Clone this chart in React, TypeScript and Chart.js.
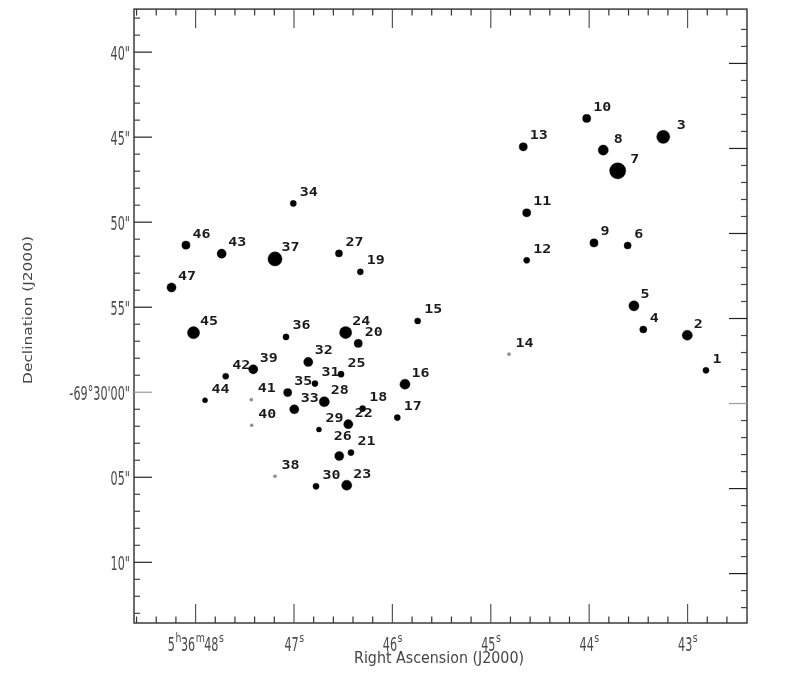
import { useEffect, useRef } from "react";
import { Chart, registerables } from "chart.js";

Chart.register(...registerables);

// Star identifiers
const starIds = [
  1, 2, 3, 4, 5, 6, 7, 8, 9, 10, 11, 12, 13, 14, 15, 16, 17, 18, 19, 20, 21, 22, 23, 24,
  25, 26, 27, 28, 29, 30, 31, 32, 33, 34, 35, 36, 37, 38, 39, 40, 41, 42, 43, 44, 45, 46, 47,
];

// Right ascension: seconds past 5h36m (J2000)
const raSeconds = [
  42.813, 43.003, 43.247, 43.45, 43.545, 43.609, 43.71, 43.857, 43.951, 44.025, 44.635, 44.635,
  44.67, 44.815, 45.743, 45.872, 45.95, 46.302, 46.326, 46.347, 46.421, 46.448, 46.464, 46.475,
  46.522, 46.54, 46.543, 46.692, 46.746, 46.776, 46.787, 46.855, 46.997, 47.007, 47.064, 47.081,
  47.193, 47.193, 47.414, 47.43, 47.434, 47.694, 47.735, 47.904, 48.021, 48.098, 48.245,
];

// Declination: arcsec south of -69°30'00" (J2000)
const decOffset = [
  -1.29, -3.35, -15.02, -3.69, -5.08, -8.63, -13.02, -14.24, -8.78, -16.1, -10.55, -7.76,
  -14.43, -2.24, -4.19, -0.47, 1.49, 0.96, -7.08, -2.87, 3.55, 1.88, 5.47, -3.51,
  -1.06, 3.75, -8.16, 0.56, 2.19, 5.53, -0.51, -1.78, 1.0, -11.1, 0.02, -3.25,
  -7.84, 4.94, -1.35, 1.94, 0.44, -0.94, -8.15, 0.47, -3.5, -8.65, -6.16,
];

// Relative brightness (symbol size class)
const brightness = [
  7, 11, 14, 8, 11, 8, 17, 11, 9, 9, 9, 7, 9, 4, 7, 11, 7, 7, 7, 9, 7, 10, 11, 13,
  7, 10, 8, 11, 6, 7, 7, 10, 10, 7, 9, 7, 15, 4, 10, 4, 4, 7, 10, 6, 13, 9, 10,
];

// Axis ticks and labels
const raMajorTicks = [48, 47, 46, 45, 44, 43];
const raTickLabels = ["5{h}36{m}48{s}", "47{s}", "46{s}", "45{s}", "44{s}", "43{s}"];
const decMajorTicks = [-20, -15, -10, -5, 0, 5, 10];
const decTickLabels = ['40"', '45"', '50"', '55"', "-69°30'00\"", '05"', '10"'];

const xTitle = "Right Ascension (J2000)";
const yTitle = "Declination (J2000)";

const RA_MIN = 42.396;
const RA_MAX = 48.626;
const DEC_MIN = -22.53;
const DEC_MAX = 13.57;
const DEC_TILT = 0.665; // declination lines tilt across the field (right edge offset)

// label nudges (pixels) for crowded labels
const labelNudge: Record<number, [number, number]> = {
  26: [-12, -9],
  3: [7, 0],
  7: [6, 0],
  8: [4, 0],
};

const TICK_TXT = "#4a4a4a";
const FRAME = "#3c3c3c";

function drawScaled(
  ctx: CanvasRenderingContext2D,
  text: string,
  x: number,
  y: number,
  font: string,
  sx: number,
  align: "left" | "center" | "right",
  color: string
) {
  ctx.save();
  ctx.font = font;
  const w = ctx.measureText(text).width * sx;
  let x0 = x;
  if (align === "center") x0 = x - w / 2;
  else if (align === "right") x0 = x - w;
  ctx.translate(x0, y);
  ctx.scale(sx, 1);
  ctx.fillStyle = color;
  ctx.textAlign = "left";
  ctx.textBaseline = "alphabetic";
  ctx.fillText(text, 0, 0);
  ctx.restore();
  return w;
}

const MAIN_FONT = "20px 'DejaVu Sans'";
const SUP_FONT = "12px 'DejaVu Sans'";
const MAIN_SX = 0.56;
const SUP_SX = 0.78;

function drawSupLabel(ctx: CanvasRenderingContext2D, label: string, cx: number, baseline: number) {
  const parts = label
    .split(/(\{[^}]*\})/)
    .filter((p) => p.length > 0)
    .map((p) => (p.startsWith("{") ? { t: p.slice(1, -1), sup: true } : { t: p, sup: false }));
  let total = 0;
  const widths = parts.map((p) => {
    ctx.font = p.sup ? SUP_FONT : MAIN_FONT;
    const w = ctx.measureText(p.t).width * (p.sup ? SUP_SX : MAIN_SX);
    total += w;
    return w;
  });
  let x = cx - total / 2;
  parts.forEach((p, i) => {
    if (p.sup) drawScaled(ctx, p.t, x + 0.5, baseline - 9, SUP_FONT, SUP_SX, "left", TICK_TXT);
    else drawScaled(ctx, p.t, x, baseline, MAIN_FONT, MAIN_SX, "left", TICK_TXT);
    x += widths[i];
  });
}

function line(ctx: CanvasRenderingContext2D, x1: number, y1: number, x2: number, y2: number) {
  ctx.beginPath();
  ctx.moveTo(x1, y1);
  ctx.lineTo(x2, y2);
  ctx.stroke();
}

const skyPlugin = {
  id: "skyPlot",
  beforeDraw(chart: any) {
    const ctx = chart.ctx as CanvasRenderingContext2D;
    ctx.save();
    ctx.fillStyle = "#ffffff";
    ctx.fillRect(0, 0, chart.width, chart.height);
    ctx.restore();
  },
  afterDatasetsDraw(chart: any) {
    const ctx = chart.ctx as CanvasRenderingContext2D;
    const { left, right, top, bottom } = chart.chartArea;
    const xs = chart.scales.x;
    const ys = chart.scales.y;

    ctx.save();
    // frame
    ctx.strokeStyle = FRAME;
    ctx.lineWidth = 1.5;
    ctx.strokeRect(left, top, right - left, bottom - top);

    // RA ticks (bottom and top, inward)
    ctx.lineWidth = 1.2;
    const startRa = Math.ceil(RA_MIN * 5) / 5;
    for (let v = startRa; v <= RA_MAX + 1e-9; v += 0.2) {
      const vv = Math.round(v * 5) / 5;
      const px = xs.getPixelForValue(vv);
      if (px < left + 2 || px > right - 2) continue;
      const major = Math.abs(vv - Math.round(vv)) < 1e-6;
      const len = major ? 19 : 6.5;
      ctx.strokeStyle = major ? "#555" : "#333";
      line(ctx, px, bottom, px, bottom - len);
      line(ctx, px, top, px, top + len);
    }

    // Dec ticks (left and right, inward)
    for (let d = Math.ceil(DEC_MIN); d <= Math.floor(DEC_MAX); d++) {
      const major = d % 5 === 0;
      const len = major ? 18 : 6;
      ctx.strokeStyle = d === 0 ? "#9a9a9a" : major ? "#222" : "#444";
      const pyL = ys.getPixelForValue(d);
      if (pyL > top + 2 && pyL < bottom - 2) line(ctx, left, pyL, left + len, pyL);
      const pyR = ys.getPixelForValue(d + DEC_TILT);
      if (pyR > top + 2 && pyR < bottom - 2) line(ctx, right, pyR, right - len, pyR);
    }
    ctx.restore();

    // tick labels
    raMajorTicks.forEach((v, i) => {
      const px = xs.getPixelForValue(v);
      drawSupLabel(ctx, raTickLabels[i], px, 651);
    });
    decMajorTicks.forEach((d, i) => {
      const py = ys.getPixelForValue(d);
      drawScaled(ctx, decTickLabels[i], 130, py + 7.5, MAIN_FONT, MAIN_SX, "right", TICK_TXT);
    });

    // axis titles
    ctx.save();
    ctx.font = "14px 'DejaVu Sans'";
    const xw = ctx.measureText(xTitle).width;
    ctx.restore();
    drawScaled(ctx, xTitle, 439, 663, "15px 'DejaVu Sans'", 170 / (xw * 15 / 14), "center", "#454545");

    ctx.save();
    ctx.font = "13px 'DejaVu Sans'";
    const yw = ctx.measureText(yTitle).width;
    ctx.translate(32, 310);
    ctx.rotate(-Math.PI / 2);
    drawScaled(ctx, yTitle, 0, 0, "13px 'DejaVu Sans'", 148 / yw, "center", "#454545");
    ctx.restore();

    // star labels
    const meta = chart.getDatasetMeta(0);
    meta.data.forEach((el: any, i: number) => {
      const id = starIds[i];
      const n = labelNudge[id] || [0, 0];
      drawScaled(
        ctx,
        String(id),
        el.x + 6.5 + n[0],
        el.y - 7.5 + n[1],
        "bold 13px 'DejaVu Sans Mono'",
        1.15,
        "left",
        "#1a1a1a"
      );
    });
  },
};

export default function App() {
  const ref = useRef<HTMLCanvasElement>(null);
  useEffect(() => {
    const canvas = ref.current;
    if (!canvas) return;
    const chart = new Chart(canvas, {
      type: "scatter",
      data: {
        datasets: [
          {
            data: raSeconds.map((x, i) => ({ x, y: decOffset[i] })),
            pointRadius: (c: any) => Math.max(1.5, brightness[c.dataIndex] / 2 - 0.4),
            pointBackgroundColor: (c: any) => (brightness[c.dataIndex] <= 4 ? "#8c8c8c" : "#000"),
            pointBorderColor: (c: any) =>
              brightness[c.dataIndex] <= 4 ? "rgba(140,140,140,0.4)" : "rgba(0,0,0,0.35)",
            pointBorderWidth: 1,
            pointHoverRadius: (c: any) => Math.max(1.5, brightness[c.dataIndex] / 2 - 0.4),
          },
        ],
      },
      options: {
        responsive: false,
        animation: false,
        devicePixelRatio: 1,
        events: [],
        layout: { padding: { left: 0, right: 47, top: 9, bottom: 0 } },
        scales: {
          x: {
            type: "linear",
            position: "bottom",
            min: RA_MIN,
            max: RA_MAX,
            reverse: true,
            ticks: { display: false },
            grid: { display: false },
            border: { display: false },
            afterFit: (s: any) => {
              s.height = 53;
            },
          },
          y: {
            type: "linear",
            position: "left",
            min: DEC_MIN,
            max: DEC_MAX,
            reverse: true,
            ticks: { display: false },
            grid: { display: false },
            border: { display: false },
            afterFit: (s: any) => {
              s.width = 134;
            },
          },
        },
        plugins: {
          legend: { display: false },
          tooltip: { enabled: false },
        },
      } as any,
      plugins: [skyPlugin],
    });
    return () => chart.destroy();
  }, []);
  return (
    <div style={{ position: "absolute", left: 0, top: 0, width: 794, height: 676, background: "#fff" }}>
      <canvas ref={ref} width={794} height={676} style={{ display: "block" }} />
    </div>
  );
}
